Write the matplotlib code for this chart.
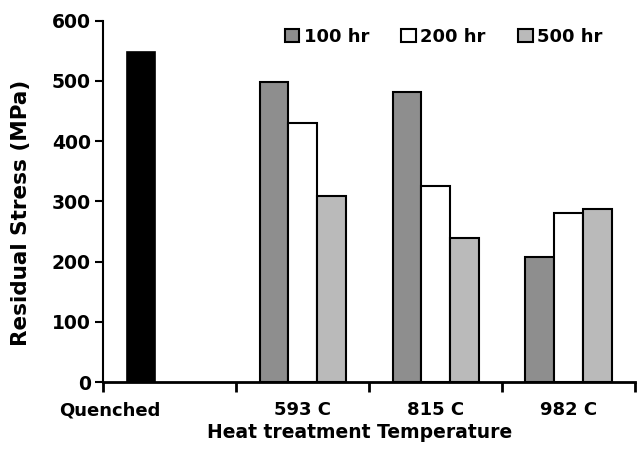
import numpy as np
import matplotlib.pyplot as plt

plt.rcParams['font.family'] = ['DejaVu Sans']
plt.rcParams['font.weight'] = 'bold'

categories = ["Quenched", "593 C", "815 C", "982 C"]
quenched = 548
series = ["100 hr", "200 hr", "500 hr"]
hr100 = [498, 482, 208]
hr200 = [430, 325, 280]
hr500 = [308, 239, 288]
colors = ["#8e8e8e", "#ffffff", "#bababa"]

fig = plt.figure(figsize=(6.42, 4.57), dpi=100)
ax = fig.add_axes([0.161, 0.164, 0.828, 0.791])

w = 0.216
x = np.arange(1, 4)
ax.bar(0 - w, quenched, w, color="black", edgecolor="black", linewidth=1.2)
for i, (vals, c, lab) in enumerate(zip([hr100, hr200, hr500], colors, series)):
    ax.bar(x + (i - 1) * w, vals, w, color=c, edgecolor="black", linewidth=1.5, label=lab)

ax.set_xlim(-0.5, 3.5)
ax.set_ylim(0, 600)
ax.set_yticks(range(0, 601, 100))
ax.set_xticks([-0.45, 1, 2, 3])
ax.set_xticklabels(categories)
ax.set_xticks(np.arange(-0.5, 3.6, 1), minor=True)
ax.tick_params(axis='x', which='major', length=0, pad=14, labelsize=13)
ax.tick_params(axis='x', which='minor', length=7, width=2, direction='out')
ax.tick_params(axis='y', length=6, width=1.5, pad=3, labelsize=13.5)

for s in ['top', 'right']:
    ax.spines[s].set_visible(False)
ax.spines['left'].set_linewidth(1.5)
ax.spines['bottom'].set_linewidth(2)

ax.set_xlabel("Heat treatment Temperature", fontsize=13.5, fontweight='bold')
ax.set_ylabel("Residual Stress (MPa)", fontsize=15.5, fontweight='bold')
ax.xaxis.set_label_coords(0.483, -0.113)
ax.yaxis.set_label_coords(-0.136, 0.468)

ax.legend(loc='center', bbox_to_anchor=(0.64, 0.955), ncol=3, frameon=False,
          prop={'weight': 'bold', 'size': 13}, handlelength=0.8, handleheight=0.8,
          handletextpad=0.25, columnspacing=1.8)

fig.savefig("out.png", dpi=100)
